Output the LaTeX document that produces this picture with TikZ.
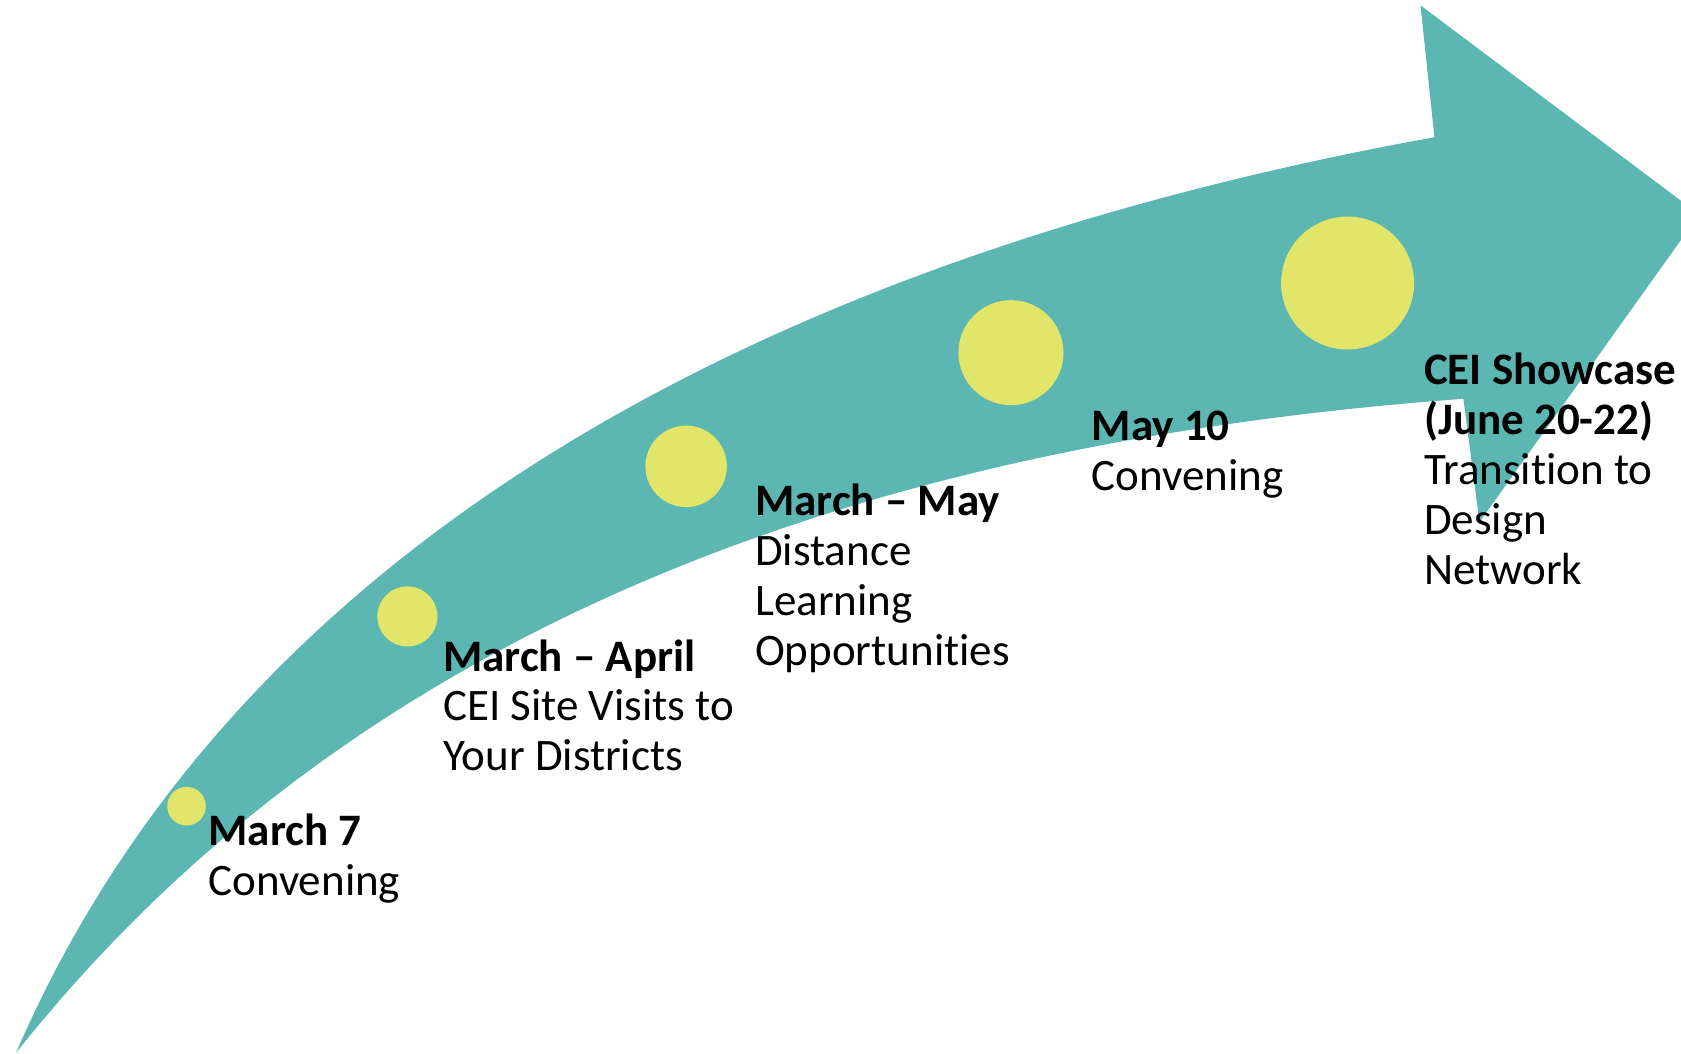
\documentclass[tikz,border=0pt]{standalone}
\usepackage{fontspec}
\setmainfont{Carlito}[Ligatures=NoCommon]
\definecolor{arrowteal}{RGB}{92,183,178}
\definecolor{dotyellow}{RGB}{225,230,106}
\begin{document}
\begin{tikzpicture}[x=0.5pt,y=-0.5pt,
  dot/.style={circle,fill=dotyellow,inner sep=0pt,minimum size=#1},
  lbl/.style={anchor=base west,align=left,inner sep=0pt,font=\fontsize{21}{23.25}\selectfont}]
\useasboundingbox (0,0) rectangle (1568,983);
\begin{scope}
\clip (0,0) rectangle (1568,983);
% arrow body
\coordinate (tail) at (15,982);
\coordinate (nu) at (1338,128);
\coordinate (ht) at (1325,5);
\coordinate (tip) at (1585,200);
\coordinate (hb) at (1380,487);
\coordinate (nl) at (1365,372);
\fill[arrowteal] (tail) .. controls (228,489) and (747,235) .. (nu)
  -- (ht) -- (tip) -- (hb) -- (nl)
  .. controls (850,410) and (350,560) .. (tail) -- cycle;
\end{scope}
% dots
\node[dot=18pt] (d1) at (174,752) {};
\node[dot=28pt] (d2) at (380,575) {};
\node[dot=38pt] (d3) at (640,435) {};
\node[dot=49pt] (d4) at (943,329) {};
\node[dot=62pt] (d5) at (1257,264) {};
% labels (anchor = baseline of last line)
\node[lbl] (l1) at (194,835.5) {\textbf{March 7}\\Convening};
\node[lbl] (l2) at (413,719) {\textbf{March – April}\\CEI Site Visits to\\Your Districts};
\node[lbl] (l3) at (704,620.5) {\textbf{March – May}\\Distance\\Learning\\Opportunities};
\node[lbl] (l4) at (1018,457.5) {\textbf{May 10}\\Convening};
\node[lbl] (l5) at (1328,545) {\textbf{CEI Showcase}\\\textbf{(June 20-22)}\\Transition to\\Design\\Network};
\end{tikzpicture}
\end{document}
